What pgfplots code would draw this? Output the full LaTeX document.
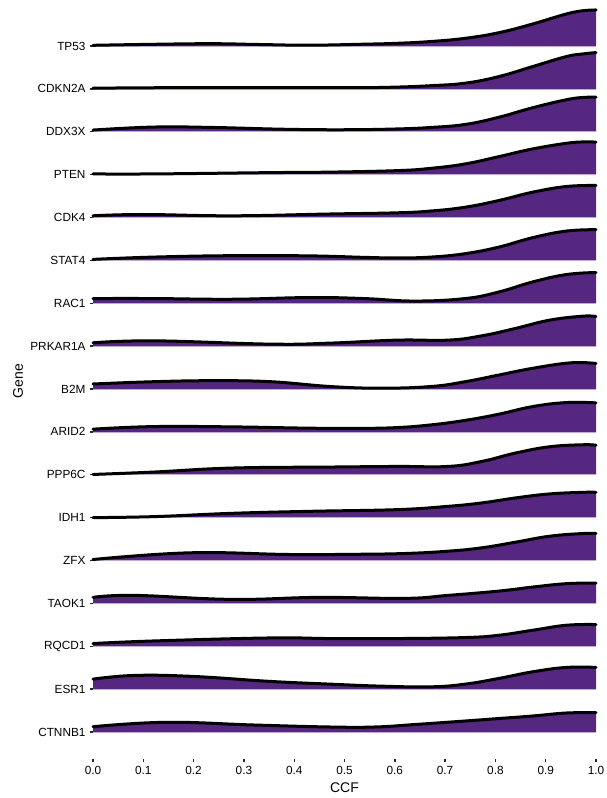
\documentclass[border=0pt]{standalone}
\usepackage{pgfplots}
\pgfplotsset{compat=1.18}
\usepackage{pgfplotstable}
\usepgfplotslibrary{fillbetween}
\usepackage{fontspec}
\setmainfont{Liberation Sans}

\definecolor{ridgefill}{RGB}{86,39,128}
\definecolor{ridgebase}{RGB}{190,170,210}
\definecolor{tickgray}{RGB}{40,40,40}

% density heights (px above each baseline), one table per gene
\pgfplotstableread[row sep=\\]{x h\\ 0 0.7\\ 0.12 1.7\\ 0.237 2.3\\ 0.33 1.5\\ 0.43 0.8\\ 0.538 1.8\\ 0.605 2.7\\ 0.672 4.5\\ 0.74 7.7\\ 0.807 13.3\\ 0.874 22\\ 0.941 32\\ 0.975 35.3\\ 1 36\\}\tTPfiftythree
\pgfplotstableread[row sep=\\]{x h\\ 0 0.7\\ 0.2 1.3\\ 0.43 1.3\\ 0.53 1.2\\ 0.605 1.8\\ 0.672 3.2\\ 0.74 5.7\\ 0.807 12.3\\ 0.874 22.3\\ 0.941 32.3\\ 0.975 35\\ 1 36.3\\}\tCDKN
\pgfplotstableread[row sep=\\]{x h\\ 0 1.7\\ 0.121 4.7\\ 0.237 4.3\\ 0.38 2.5\\ 0.5 2\\ 0.605 2.8\\ 0.672 4.3\\ 0.74 7.3\\ 0.807 14.5\\ 0.874 24\\ 0.941 32\\ 0.975 34.3\\ 1 34.5\\}\tDDX
\pgfplotstableread[row sep=\\]{x h\\ 0 0.7\\ 0.121 0.7\\ 0.353 2\\ 0.471 2.5\\ 0.605 4\\ 0.672 6.3\\ 0.74 10.7\\ 0.807 18\\ 0.874 25.7\\ 0.941 31.3\\ 0.975 32.7\\ 1 32.5\\}\tPTEN
\pgfplotstableread[row sep=\\]{x h\\ 0 1.7\\ 0.1 3\\ 0.276 1.7\\ 0.471 3.5\\ 0.605 4.7\\ 0.672 6.5\\ 0.74 10.3\\ 0.807 17\\ 0.874 25.3\\ 0.941 31\\ 1 32\\}\tCDKfour
\pgfplotstableread[row sep=\\]{x h\\ 0 1\\ 0.121 3.3\\ 0.276 4.7\\ 0.43 4.5\\ 0.54 3\\ 0.605 2.4\\ 0.672 3.3\\ 0.74 6.7\\ 0.807 13.3\\ 0.874 22.7\\ 0.941 29.3\\ 1 30.7\\}\tSTAT
\pgfplotstableread[row sep=\\]{x h\\ 0 4.7\\ 0.121 4.7\\ 0.276 4\\ 0.43 5.7\\ 0.538 4.7\\ 0.639 2.2\\ 0.74 4.7\\ 0.807 11.3\\ 0.874 21.3\\ 0.941 28.7\\ 1 30.7\\}\tRAC
\pgfplotstableread[row sep=\\]{x h\\ 0 3.3\\ 0.121 5.3\\ 0.353 2\\ 0.471 3\\ 0.605 6\\ 0.706 6\\ 0.773 10.3\\ 0.84 17.7\\ 0.908 26\\ 0.975 30\\ 1 29.5\\}\tPRKAR
\pgfplotstableread[row sep=\\]{x h\\ 0 5\\ 0.121 7.3\\ 0.237 8.3\\ 0.353 7.3\\ 0.471 2.5\\ 0.572 0.8\\ 0.672 2.5\\ 0.74 7.3\\ 0.807 14\\ 0.874 20.7\\ 0.95 26.2\\ 1 25.5\\}\tBtwoM
\pgfplotstableread[row sep=\\]{x h\\ 0 2.7\\ 0.121 5.3\\ 0.276 5\\ 0.43 3.7\\ 0.53 3.5\\ 0.605 4.3\\ 0.672 7\\ 0.74 11.5\\ 0.807 17.7\\ 0.874 25.3\\ 0.941 29.3\\ 1 29\\}\tARID
\pgfplotstableread[row sep=\\]{x h\\ 0 0.3\\ 0.121 2.7\\ 0.276 6.7\\ 0.471 7.7\\ 0.605 8.3\\ 0.706 8.3\\ 0.773 13.3\\ 0.84 21.7\\ 0.908 28\\ 0.975 30\\ 1 29.5\\}\tPPP
\pgfplotstableread[row sep=\\]{x h\\ 0 0\\ 0.121 1\\ 0.276 4.3\\ 0.43 6.3\\ 0.605 8\\ 0.706 11.3\\ 0.773 14.7\\ 0.84 19.7\\ 0.908 23.7\\ 0.975 25.3\\ 1 25.3\\}\tIDH
\pgfplotstableread[row sep=\\]{x h\\ 0 1\\ 0.193 7.7\\ 0.39 6\\ 0.52 6.2\\ 0.62 7\\ 0.706 9.3\\ 0.773 12.7\\ 0.84 18.3\\ 0.908 24.3\\ 0.975 27\\ 1 27\\}\tZFX
\pgfplotstableread[row sep=\\]{x h\\ 0 6\\ 0.083 8\\ 0.276 4\\ 0.45 6\\ 0.62 5\\ 0.706 8\\ 0.807 12.3\\ 0.874 16.3\\ 0.941 19.7\\ 1 20.3\\}\tTAOK
\pgfplotstableread[row sep=\\]{x h\\ 0 2.7\\ 0.121 5.3\\ 0.353 8.3\\ 0.471 7.7\\ 0.605 7.7\\ 0.74 8.7\\ 0.807 11\\ 0.874 16\\ 0.941 21\\ 1 21.7\\}\tRQCD
\pgfplotstableread[row sep=\\]{x h\\ 0 10\\ 0.083 13.7\\ 0.199 12.7\\ 0.353 7.7\\ 0.471 5\\ 0.572 3\\ 0.672 2.3\\ 0.74 5\\ 0.807 10.7\\ 0.874 17.3\\ 0.941 21.7\\ 1 21.7\\}\tESR
\pgfplotstableread[row sep=\\]{x h\\ 0 5.3\\ 0.146 9.7\\ 0.32 7\\ 0.471 5\\ 0.56 5\\ 0.64 7.5\\ 0.74 11\\ 0.807 13.5\\ 0.874 16\\ 0.941 19\\ 1 19.3\\}\tCTNNB

% one ridge: #1 = table, #2 = baseline position
\newcommand{\ridge}[2]{%
  \addplot[name path=r#2, draw=none, smooth, tension=0.7, forget plot]
    table[x=x, y expr=\thisrow{h}/42.875+#2] {#1};
  \addplot[name path=b#2, draw=none, forget plot] coordinates {(0,#2) (1,#2)};
  \addplot[fill=ridgefill, draw=none, forget plot] fill between[of=r#2 and b#2];
  \addplot[ridgebase, line width=0.6pt, forget plot] coordinates {(0,#2) (1,#2)};
  \addplot[black, line width=3pt, smooth, tension=0.7, line cap=round, forget plot]
    table[x=x, y expr=\thisrow{h}/42.875+#2] {#1};
}

\begin{document}
\begin{tikzpicture}
\begin{axis}[
  scale only axis,
  width=503pt, height=756pt,
  xmin=0, xmax=1, ymin=0.3703, ymax=18.003,
  axis line style={draw=none},
  xtick pos=bottom, ytick pos=left,
  tick align=outside,
  major tick length=3pt,
  tick style={tickgray, line width=1.4pt},
  xtick={0,0.1,...,1.0},
  xticklabels={0.0,0.1,0.2,0.3,0.4,0.5,0.6,0.7,0.8,0.9,1.0},
  ytick={1,...,17},
  yticklabels={CTNNB1,ESR1,RQCD1,TAOK1,ZFX,IDH1,PPP6C,ARID2,B2M,PRKAR1A,RAC1,STAT4,CDK4,PTEN,DDX3X,CDKN2A,TP53},
  ticklabel style={font=\fontsize{11.8}{14}\selectfont, text=black},
  xticklabel style={yshift=-1pt},
  yticklabel style={xshift=-1pt},
  xlabel={CCF}, ylabel={Gene},
  every axis x label/.style={at={(axis description cs:0.5,-0.038)}, anchor=center, font=\fontsize{14}{16}\selectfont},
  every axis y label/.style={at={(axis description cs:-0.149,0.5)}, anchor=center, rotate=90, font=\fontsize{14}{16}\selectfont},
  clip=false,
]
\ridge{\tTPfiftythree}{17}
\ridge{\tCDKN}{16}
\ridge{\tDDX}{15}
\ridge{\tPTEN}{14}
\ridge{\tCDKfour}{13}
\ridge{\tSTAT}{12}
\ridge{\tRAC}{11}
\ridge{\tPRKAR}{10}
\ridge{\tBtwoM}{9}
\ridge{\tARID}{8}
\ridge{\tPPP}{7}
\ridge{\tIDH}{6}
\ridge{\tZFX}{5}
\ridge{\tTAOK}{4}
\ridge{\tRQCD}{3}
\ridge{\tESR}{2}
\ridge{\tCTNNB}{1}
\end{axis}
\pgfresetboundingbox
\path (current axis.south west) ++(-93pt,-39pt) coordinate (bbA);
\path (current axis.north east) ++(11pt,3pt) coordinate (bbB);
\useasboundingbox (bbA) rectangle (bbB);
\end{tikzpicture}
\end{document}
